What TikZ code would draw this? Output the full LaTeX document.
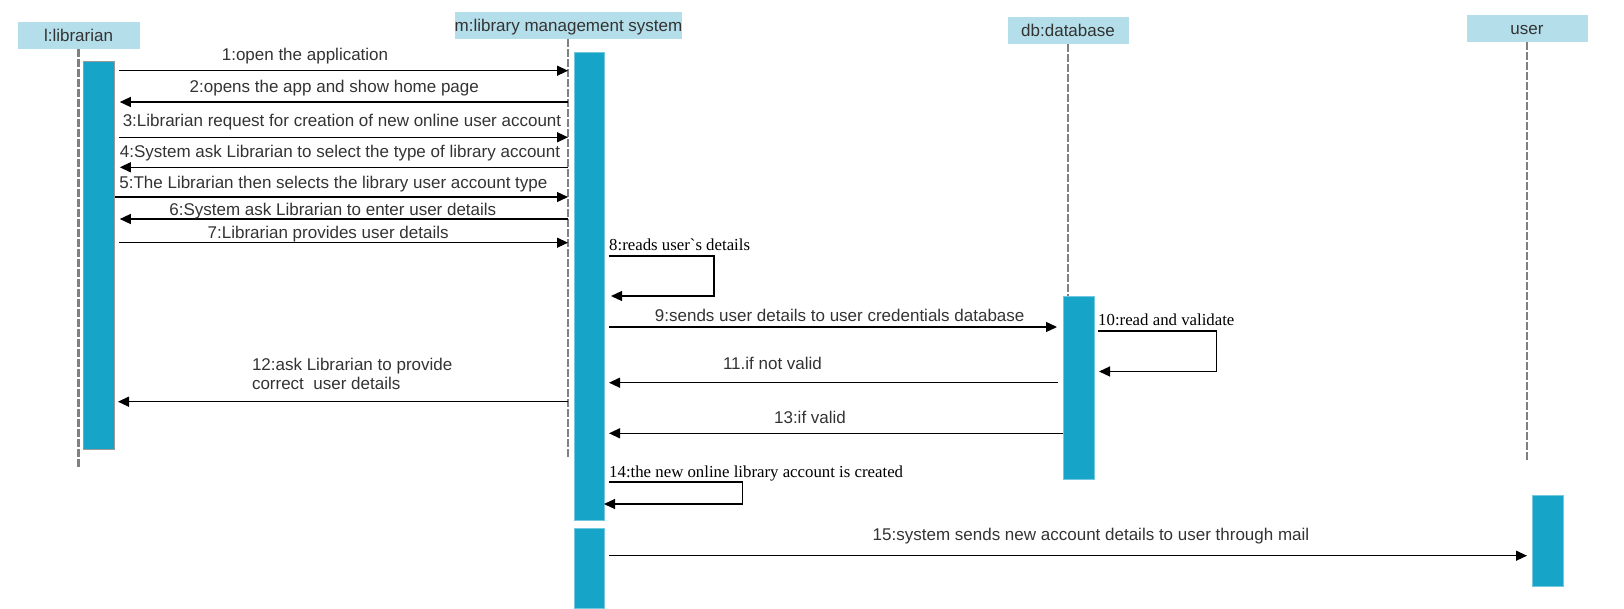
\documentclass[tikz,border=0pt]{standalone}
\usepackage{fontspec}
\setmainfont{Liberation Sans}
\newfontfamily\tnr{Liberation Serif}
\usetikzlibrary{arrows.meta}
\definecolor{hdr}{RGB}{180,223,234}
\definecolor{act}{RGB}{22,164,200}
\definecolor{txt}{RGB}{51,51,51}
\definecolor{life}{RGB}{128,128,128}
\begin{document}
\begin{tikzpicture}[x=1pt,y=-1pt,
  hdrbox/.style={fill=hdr, draw=white, line width=0.8pt, inner sep=0pt, text=txt,
    font=\fontsize{17}{20}\selectfont, minimum height=28pt, text height=12.2pt, text depth=0pt},
  actbar/.style={fill=act, draw=act!60!white, line width=0.8pt, inner sep=0pt, minimum width=30pt},
  lifeline/.style={draw=life, line width=2.2pt, dash pattern=on 7.5pt off 2.5pt},
  msg/.style={draw=black, line width=1.3pt, -{Triangle[length=11pt,width=10pt]}},
  lbl/.style={text=txt, font=\fontsize{17}{19}\selectfont, inner sep=0pt},
  slbl/.style={text=black, font=\tnr\fontsize{16.8}{19}\selectfont, inner sep=0pt}]
\useasboundingbox (0,0) rectangle (1624,608);

% headers
\node[hdrbox, minimum width=123pt] (lib) at (78.5,35) {l:librarian};
\node[hdrbox, minimum width=227pt] (sys) at (568.5,25) {m:library management system};
\node[hdrbox, minimum width=122pt] (db) at (1068,30) {db:database};
\node[hdrbox, minimum width=122pt] (usr) at (1527,28) {user};

% lifeline ends
\coordinate (libend) at (78.5,467);
\coordinate (systop) at (568,39);
\coordinate (sysend) at (568,457);
\coordinate (dbtop) at (1068,44);
\coordinate (dbend) at (1068,296);
\coordinate (usrtop) at (1527,42);
\coordinate (usrend) at (1527,460);

\draw[lifeline] (lib.south) -- (libend);
\draw[lifeline] (systop) -- (sysend);
\draw[lifeline] (dbtop) -- (dbend);
\draw[lifeline] (usrtop) -- (usrend);

% activation bars
\node[actbar, draw=black!40, line width=1pt, minimum width=31pt, minimum height=388pt] (libact) at (99,255) {};
\node[actbar, minimum height=468pt] (sysact1) at (589,286) {};
\node[actbar, minimum height=80pt] (sysact2) at (589,568) {};
\node[actbar, minimum width=31pt, minimum height=183.5pt] (dbact) at (1078.5,387.75) {};
\node[actbar, minimum width=31pt, minimum height=91.7pt] (usract) at (1547.5,540.85) {};

% message end points
\coordinate (a1) at (119.4,70.7);   \coordinate (b1) at (568,70.7);
\coordinate (a2) at (568,102);      \coordinate (b2) at (119.8,102);
\coordinate (a3) at (119.4,137.3);  \coordinate (b3) at (568,137.3);
\coordinate (a4) at (568,167.3);    \coordinate (b4) at (119.8,167.3);
\coordinate (a5) at (114.8,197);    \coordinate (b5) at (568,197);
\coordinate (a6) at (568,219);      \coordinate (b6) at (119.8,219);
\coordinate (a7) at (119.4,242.7);  \coordinate (b7) at (568,242.7);
\coordinate (a8) at (609,256);      \coordinate (c8) at (714,296);   \coordinate (b8) at (611,296);
\coordinate (a9) at (609,327);      \coordinate (b9) at (1057,327);
\coordinate (a10) at (1098,331);    \coordinate (c10) at (1216.5,371.5); \coordinate (b10) at (1099,371.5);
\coordinate (a11) at (1058,382.7);  \coordinate (b11) at (609,382.7);
\coordinate (a12) at (568,401.7);   \coordinate (b12) at (118,401.7);
\coordinate (a13) at (1063,433.3);  \coordinate (b13) at (609,433.3);
\coordinate (a14) at (609,482);     \coordinate (c14) at (742.6,504); \coordinate (b14) at (604,504);
\coordinate (a15) at (609,555.7);   \coordinate (b15) at (1527,555.7);

% messages
\draw[msg] (a1) -- (b1);
\draw[msg] (a2) -- (b2);
\draw[msg] (a3) -- (b3);
\draw[msg] (a4) -- (b4);
\draw[msg] (a5) -- (b5);
\draw[msg] (a6) -- (b6);
\draw[msg] (a7) -- (b7);
\draw[msg] (a8) -| (c8) -- (b8);
\draw[msg] (a9) -- (b9);
\draw[msg] (a10) -| (c10) -- (b10);
\draw[msg] (a11) -- (b11);
\draw[msg] (a12) -- (b12);
\draw[msg] (a13) -- (b13);
\draw[msg] (a14) -| (c14) -- (b14);
\draw[msg] (a15) -- (b15);

% labels
\node[lbl, anchor=base] (l1) at (305,60.3) {1:open the application};
\node[lbl, anchor=base] (l2) at (334.3,92.7) {2:opens the app and show home page};
\node[lbl, anchor=base] (l3) at (342,126) {3:Librarian request for creation of new online user account};
\node[lbl, anchor=base] (l4) at (340,157.7) {4:System ask Librarian to select the type of library account};
\node[lbl, anchor=base] (l5) at (333.4,188.7) {5:The Librarian then selects the library user account type};
\node[lbl, anchor=base] (l6) at (332.8,215.3) {6:System ask Librarian to enter user details};
\node[lbl, anchor=base] (l7) at (328.2,238.3) {7:Librarian provides user details};
\node[slbl, anchor=base west] (l8) at (609,250.7) {8:reads user`s details};
\node[lbl, anchor=base] (l9) at (839.7,321) {9:sends user details to user credentials database};
\node[slbl, anchor=base west] (l10) at (1098,325) {10:read and validate};
\node[lbl, anchor=base] (l11) at (772.5,369) {11.if not valid};
\node[lbl, anchor=base west] (l12a) at (251.8,370) {12:ask Librarian to provide};
\node[lbl, anchor=base west] (l12b) at (251.8,389) {correct\ \ user details};
\node[lbl, anchor=base] (l13) at (810,423) {13:if valid};
\node[slbl, anchor=base west] (l14) at (609,477) {14:the new online library account is created};
\node[lbl, anchor=base] (l15) at (1091,540) {15:system sends new account details to user through mail};
\end{tikzpicture}
\end{document}
